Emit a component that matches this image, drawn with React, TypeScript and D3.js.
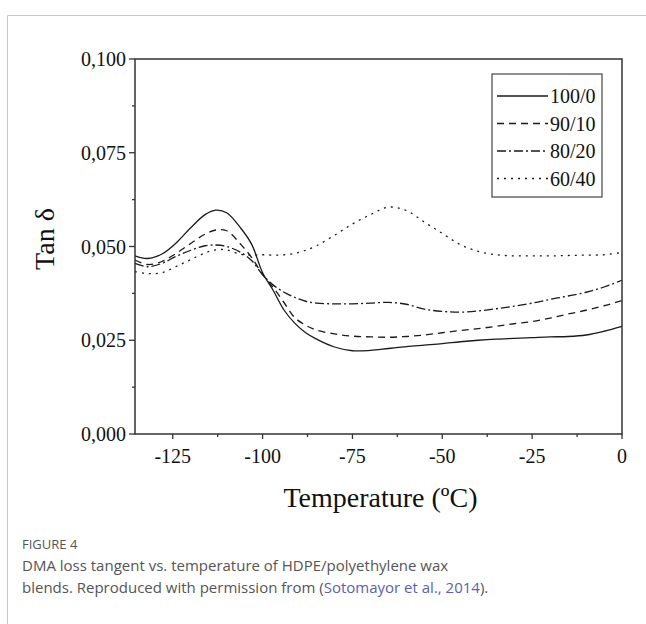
import React from "react";
import * as d3 from "d3";

const temps = [-135.5, -132, -128, -124, -120, -116, -113, -110, -106, -103, -100, -97, -94, -91, -88, -85, -80, -75, -70, -65, -60, -55, -50, -45, -40, -35, -30, -25, -20, -15, -10, -5, 0];

const s100_0 = [0.0475, 0.0468, 0.048, 0.051, 0.055, 0.0585, 0.0597, 0.059, 0.0548, 0.0505, 0.043, 0.0382, 0.033, 0.0295, 0.027, 0.0253, 0.0232, 0.0222, 0.0223, 0.0228, 0.0233, 0.0237, 0.0241, 0.0246, 0.025, 0.0253, 0.0255, 0.0257, 0.0259, 0.026, 0.0264, 0.0274, 0.0287];
const s90_10 = [0.0464, 0.0452, 0.046, 0.0482, 0.0508, 0.0533, 0.0544, 0.0542, 0.0505, 0.047, 0.0425, 0.039, 0.035, 0.031, 0.029, 0.0277, 0.0267, 0.0261, 0.0259, 0.0258, 0.026, 0.0264, 0.027, 0.0276, 0.0281, 0.0287, 0.0294, 0.03, 0.0309, 0.032, 0.033, 0.0342, 0.0356];
const s80_20 = [0.0455, 0.0446, 0.0455, 0.0474, 0.049, 0.0502, 0.0504, 0.05, 0.0484, 0.0462, 0.0425, 0.0397, 0.0378, 0.0364, 0.0354, 0.0349, 0.0347, 0.0347, 0.0349, 0.0351, 0.0346, 0.0333, 0.0327, 0.0325, 0.0328, 0.0334, 0.0341, 0.0349, 0.0359, 0.0368, 0.0378, 0.0392, 0.041];
const s60_40 = [0.0433, 0.0428, 0.043, 0.0447, 0.0465, 0.0483, 0.0491, 0.0491, 0.0479, 0.0477, 0.0478, 0.0477, 0.0478, 0.0482, 0.049, 0.0502, 0.053, 0.056, 0.0585, 0.0605, 0.0596, 0.0565, 0.0535, 0.0505, 0.0487, 0.0478, 0.0475, 0.0475, 0.0475, 0.0476, 0.0477, 0.0478, 0.0484];

const seriesNames = ["100/0", "90/10", "80/20", "60/40"];
const seriesValues = [s100_0, s90_10, s80_20, s60_40];
const dashes = ["none", "7 5", "9 3 2 3", "2 5"];

const xTicks = [-125, -100, -75, -50, -25, 0];
const xMinor = [-112.5, -87.5, -62.5, -37.5, -12.5];
const yTicks = [0, 0.025, 0.05, 0.075, 0.1];
const yMinor = [0.0125, 0.0375, 0.0625, 0.0875];

const L = 135, R = 622, T = 59, B = 434;

export default function App() {
  const x = d3.scaleLinear().domain([-135.5, 0]).range([L, R]);
  const y = d3.scaleLinear().domain([0, 0.1]).range([B, T]);
  const line = d3
    .line<number>()
    .x((_, i) => x(temps[i]))
    .y((d) => y(d))
    .curve(d3.curveCatmullRom.alpha(0.5));
  const fmt = (v: number) => v.toFixed(3).replace(".", ",");
  const serif = "'Liberation Serif', 'Times New Roman', serif";
  const sans = "'Open Sans', 'Noto Sans', sans-serif";
  const legX = 492, legY = 74, legW = 110, legH = 123;
  return (
    <svg width={646} height={624} style={{ position: "absolute", left: 0, top: 0 }}>
      <rect width={646} height={624} fill="#fff" />
      <line x1={7.5} y1={15.5} x2={646} y2={15.5} stroke="#c8c8c8" strokeWidth={1} />
      <line x1={7.5} y1={15.5} x2={7.5} y2={624} stroke="#c8c8c8" strokeWidth={1} />
      <g>
        {seriesValues.map((vals, i) => (
          <path key={i} d={line(vals) || ""} fill="none" stroke="#1a1a1a" strokeWidth={1.3} strokeDasharray={dashes[i]} />
        ))}
      </g>
      <rect x={L} y={T} width={R - L} height={B - T} fill="none" stroke="#333" strokeWidth={1.5} />
      {xTicks.map((t) => (
        <g key={t}>
          <line x1={x(t)} x2={x(t)} y1={B} y2={B + 5} stroke="#333" strokeWidth={1.3} />
          <text x={x(t)} y={463} textAnchor="middle" fontFamily={serif} fontSize={20} fill="#111">{t}</text>
        </g>
      ))}
      {xMinor.map((t) => (
        <line key={t} x1={x(t)} x2={x(t)} y1={B} y2={B + 3} stroke="#333" strokeWidth={1.3} />
      ))}
      {yTicks.map((t) => (
        <g key={t}>
          <line x1={L - 6} x2={L} y1={y(t)} y2={y(t)} stroke="#333" strokeWidth={1.3} />
          <text x={126} y={y(t)} dy="0.35em" textAnchor="end" fontFamily={serif} fontSize={20} fill="#111">{fmt(t)}</text>
        </g>
      ))}
      {yMinor.map((t) => (
        <line key={t} x1={L - 3} x2={L} y1={y(t)} y2={y(t)} stroke="#333" strokeWidth={1.3} />
      ))}
      <text transform="translate(54,239) rotate(-90)" textAnchor="middle" fontFamily={serif} fontSize={28} fill="#111">Tan δ</text>
      <text x={(L + R) / 2 + 2} y={507} textAnchor="middle" fontFamily={serif} fontSize={28} fill="#111">Temperature (ºC)</text>
      <rect x={legX} y={legY} width={legW} height={legH} fill="#fff" stroke="#444" strokeWidth={1.2} />
      {seriesNames.map((n, i) => {
        const yy = legY + 22 + i * 27.5;
        return (
          <g key={n}>
            <line x1={legX + 5} x2={legX + 56} y1={yy} y2={yy} stroke="#1a1a1a" strokeWidth={1.3} strokeDasharray={dashes[i]} />
            <text x={legX + 58} y={yy} dy="0.35em" fontFamily={serif} fontSize={20} fill="#111">{n}</text>
          </g>
        );
      })}
      <text x={22} y={549} fontFamily={sans} fontSize={13} fill="#555">FIGURE 4</text>
      <text x={22} y={571} fontFamily={sans} fontSize={15} fill="#555">DMA loss tangent vs. temperature of HDPE/polyethylene wax</text>
      <text x={22} y={593} fontFamily={sans} fontSize={15} fill="#555">
        blends. Reproduced with permission from (<tspan fill="#5a5fae">Sotomayor et al., 2014</tspan>).
      </text>
    </svg>
  );
}
